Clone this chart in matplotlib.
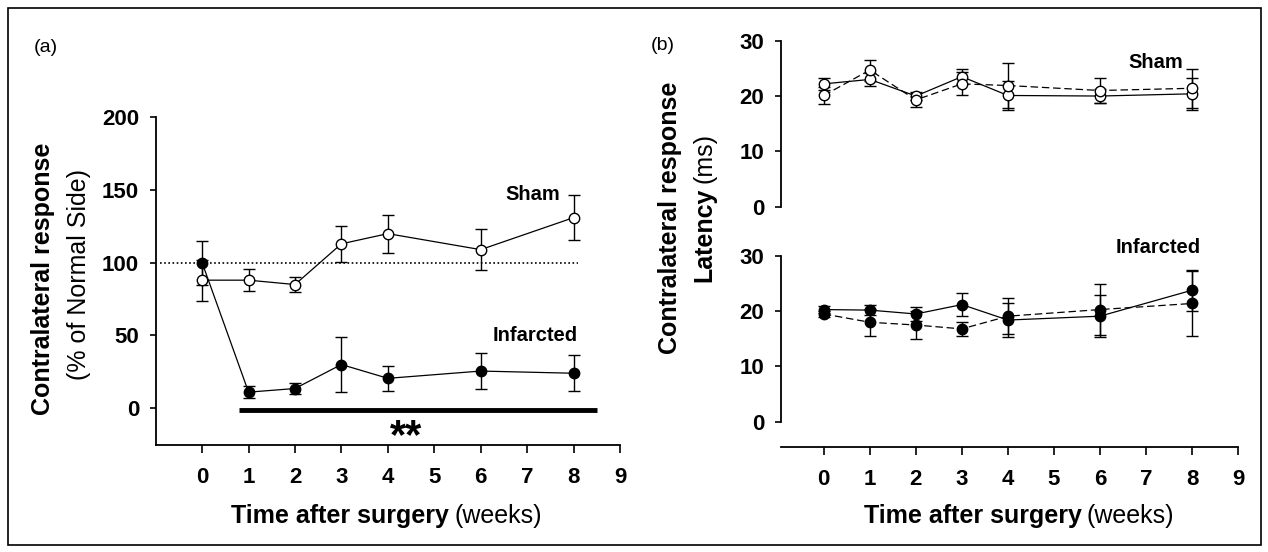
import matplotlib
matplotlib.use("Agg")
import matplotlib.pyplot as plt
from matplotlib.patches import Rectangle

plt.rcParams['font.family'] = ['Liberation Sans', 'DejaVu Sans']

W, H = 1268, 552

weeks = [0, 1, 2, 3, 4, 6, 8]

# (a) contralateral response (% of normal side)
sham_resp = [88, 88, 85, 113, 120, 109, 131]
sham_resp_err = [14, 7.5, 5, 12.5, 13, 14, 15.5]
inf_resp = [100, 11, 13.5, 30, 20.5, 25.5, 24]
inf_resp_err = [15, 4, 3.5, 19, 8.5, 12.5, 12.5]
normal_level = 100
sig_span = [0.8, 8.5]

# (b) latency (ms), two measurements per group
sham_lat_a = [22.2, 23.0, 20.0, 23.5, 20.1, 20.0, 20.4]
sham_lat_a_err = [1.1, 1.1, 0.7, 1.4, 2.6, 1.2, 2.9]
sham_lat_b = [20.1, 24.7, 19.3, 22.2, 21.9, 21.0, 21.4]
sham_lat_b_err = [1.6, 1.9, 1.3, 2.1, 4.0, 2.2, 3.5]
inf_lat_a = [20.3, 20.2, 19.5, 21.2, 18.4, 19.1, 23.8]
inf_lat_a_err = [0.6, 0.9, 1.2, 2.1, 3.0, 3.8, 3.7]
inf_lat_b = [19.5, 18.0, 17.5, 16.8, 19.1, 20.3, 21.4]
inf_lat_b_err = [0.6, 2.4, 2.6, 1.2, 3.3, 4.6, 5.8]


def px(x, y):
    # pixel position -> figure fraction
    return x / W, 1 - y / H


def box(l, t, r, b):
    return [l / W, 1 - b / H, (r - l) / W, (b - t) / H]


def style(ax, xaxis=True):
    for s in ['top', 'right']:
        ax.spines[s].set_visible(False)
    ax.spines['left'].set_linewidth(1.3)
    ax.spines['bottom'].set_linewidth(1.3)
    ax.tick_params(axis='y', length=4, width=1.2, pad=8, labelsize=16)
    ax.tick_params(axis='x', length=6, width=1.2, pad=10, labelsize=16)
    for lab in ax.get_xticklabels() + ax.get_yticklabels():
        lab.set_fontweight('bold')
    if not xaxis:
        ax.spines['bottom'].set_visible(False)
        ax.tick_params(axis='x', bottom=False, labelbottom=False)


def series(ax, y, err, filled, dashed=False):
    ax.errorbar(weeks, y, yerr=err, color='k', lw=0.9,
                ls=(0, (6, 3)) if dashed else '-',
                marker='o', ms=7.5, mfc='k' if filled else 'white', mec='k', mew=1.0,
                elinewidth=1.0, capsize=4.5, capthick=1.2, zorder=3)


fig = plt.figure(figsize=(W / 100, H / 100), dpi=100)

# ---- panel (a)
ax = fig.add_axes(box(155.7, 117.3, 620, 444.5))
ax.hlines(normal_level, -0.9, 8.1, colors='k', linestyles=(0, (1, 1.5)), lw=1.2, zorder=1)
series(ax, sham_resp, sham_resp_err, filled=False)
series(ax, inf_resp, inf_resp_err, filled=True)
ax.hlines(-1.5, sig_span[0], sig_span[1], colors='k', lw=3.5)
ax.text(4.4, -20, '**', ha='center', va='center', fontsize=30, fontweight='bold')
ax.text(7.7, 147, 'Sham', ha='right', va='center', fontsize=14.5, fontweight='bold')
ax.text(8.1, 50, 'Infarcted', ha='right', va='center', fontsize=14.5, fontweight='bold')
ax.set_xlim(-1, 9)
ax.set_ylim(-25, 200)
ax.set_xticks(range(10))
ax.set_yticks([0, 50, 100, 150, 200])
style(ax)

# ---- panel (b) top: sham
axt = fig.add_axes(box(781, 40.7, 1238, 206.7))
series(axt, sham_lat_a, sham_lat_a_err, filled=False)
series(axt, sham_lat_b, sham_lat_b_err, filled=False, dashed=True)
axt.text(7.8, 26, 'Sham', ha='right', va='center', fontsize=14.5, fontweight='bold')
axt.set_xlim(-0.93, 9)
axt.set_ylim(0, 30)
axt.set_yticks([0, 10, 20, 30])
style(axt, xaxis=False)

# ---- panel (b) bottom: infarcted
axb = fig.add_axes(box(781, 256, 1238, 446.5))
series(axb, inf_lat_a, inf_lat_a_err, filled=True)
series(axb, inf_lat_b, inf_lat_b_err, filled=True, dashed=True)
axb.text(8.2, 31.5, 'Infarcted', ha='right', va='center', fontsize=14.5,
         fontweight='bold', clip_on=False)
axb.set_xlim(-0.93, 9)
axb.set_ylim(-4.5, 30)
axb.set_xticks(range(10))
axb.set_yticks([0, 10, 20, 30])
axb.spines['left'].set_bounds(0, 30)
style(axb)

# ---- labels
fig.text(*px(46, 47), '(a)', ha='center', va='center', fontsize=14)
fig.text(*px(663, 46), '(b)', ha='center', va='center', fontsize=14)

fig.text(*px(43, 279), 'Contralateral response', rotation=90, ha='center', va='center',
         fontsize=18, fontweight='bold')
fig.text(*px(79, 275), '(% of Normal Side)', rotation=90, ha='center', va='center',
         fontsize=18)

fig.text(*px(670, 218), 'Contralateral response', rotation=90, ha='center', va='center',
         fontsize=18, fontweight='bold')
fig.text(*px(711, 188), 'Latency', rotation=90, rotation_mode='anchor', ha='right',
         va='baseline', fontsize=18, fontweight='bold')
fig.text(*px(711, 183), '(ms)', rotation=90, rotation_mode='anchor', ha='left',
         va='baseline', fontsize=18)

for split in [449, 1082]:
    fig.text(*px(split, 523), 'Time after surgery', ha='right', va='baseline',
             fontsize=18, fontweight='bold')
    fig.text(*px(split + 5, 523), '(weeks)', ha='left', va='baseline', fontsize=18)

fig.add_artist(Rectangle((8 / W, 1 - 545 / H), (1261 - 8) / W, (545 - 8) / H,
                         transform=fig.transFigure, fill=False, lw=1.2, ec='k'))

fig.savefig('out.png', dpi=100)
